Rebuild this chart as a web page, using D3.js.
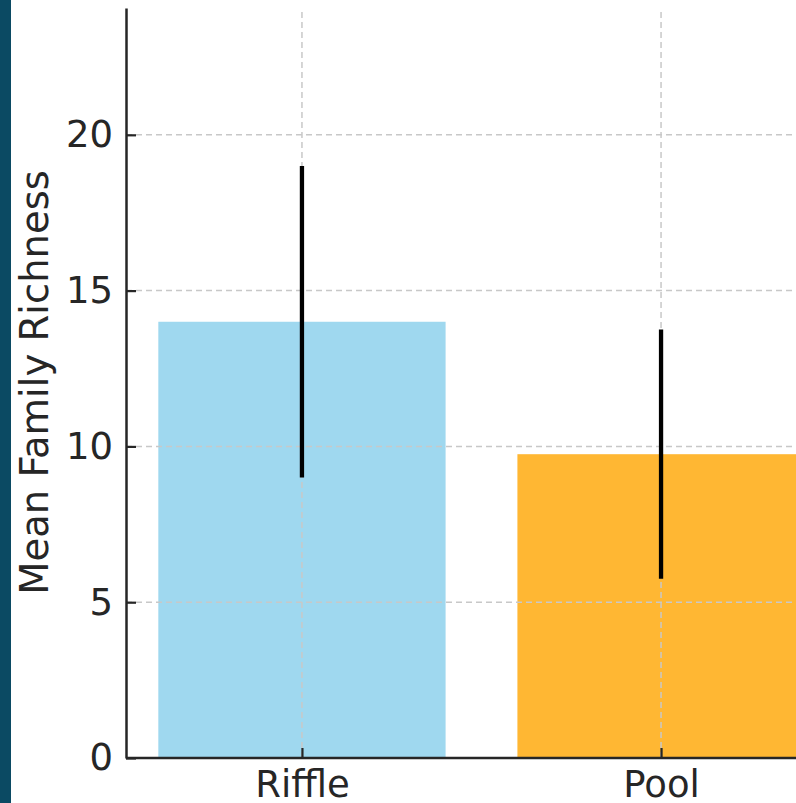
<!DOCTYPE html>
<html>
<head>
<meta charset="utf-8">
<script src="https://cdn.jsdelivr.net/npm/d3@7"></script>
<style>
  body { margin: 0; background: #ffffff; }
  svg { display: block; font-family: "DejaVu Sans", sans-serif; }
</style>
</head>
<body>
<div id="vis"></div>
<script>
// chart data
const CATEGORIES = ["Riffle", "Pool"];
const MEANS = [14.0, 9.75];
const ERRORS = [5.0, 4.0];
const COLORS = ["skyblue", "orange"];
const Y_TICKS = [0, 5, 10, 15, 20];

// frame
const FRAME_WIDTH = 796;
const FRAME_HEIGHT = 803;
const MARGINS = {left: 126, top: 8, bottom: 45};

const FRAME = d3.select("#vis")
                .append("svg")
                  .attr("width", FRAME_WIDTH)
                  .attr("height", FRAME_HEIGHT);

// dark strip on the left edge
FRAME.append("rect")
     .attr("x", 0).attr("y", 0)
     .attr("width", 11).attr("height", FRAME_HEIGHT)
     .attr("fill", "#0b4a63");

// scales (x runs past the right edge, the plot is cut off there)
const X_SCALE = d3.scaleLinear()
                  .domain([-0.49, 1.49])
                  .range([MARGINS.left, 837]);

const Y_SCALE = d3.scaleLinear()
                  .domain([0, 24.07])
                  .range([FRAME_HEIGHT - MARGINS.bottom, MARGINS.top]);

const BAR_W = X_SCALE(0.8) - X_SCALE(0);

// bars
FRAME.selectAll(".bar")
     .data(CATEGORIES)
     .enter()
     .append("rect")
       .attr("class", "bar")
       .attr("x", (d, i) => { return X_SCALE(i) - BAR_W / 2; })
       .attr("y", (d, i) => { return Y_SCALE(MEANS[i]); })
       .attr("width", BAR_W)
       .attr("height", (d, i) => { return Y_SCALE(0) - Y_SCALE(MEANS[i]); })
       .attr("fill", (d, i) => { return COLORS[i]; })
       .attr("fill-opacity", 0.8);

// grid, drawn over the bars
const GRID = FRAME.append("g")
                  .attr("stroke", "#c8c8c8")
                  .attr("stroke-width", 1.5)
                  .attr("stroke-dasharray", "6,4");

GRID.selectAll(".hgrid")
    .data(Y_TICKS.slice(1))
    .enter()
    .append("line")
      .attr("x1", MARGINS.left).attr("x2", FRAME_WIDTH)
      .attr("y1", (d) => { return Y_SCALE(d); })
      .attr("y2", (d) => { return Y_SCALE(d); });

GRID.selectAll(".vgrid")
    .data(CATEGORIES)
    .enter()
    .append("line")
      .attr("x1", (d, i) => { return X_SCALE(i); })
      .attr("x2", (d, i) => { return X_SCALE(i); })
      .attr("y1", Y_SCALE(0)).attr("y2", MARGINS.top);

// error bars
FRAME.selectAll(".err")
     .data(CATEGORIES)
     .enter()
     .append("line")
       .attr("x1", (d, i) => { return X_SCALE(i); })
       .attr("x2", (d, i) => { return X_SCALE(i); })
       .attr("y1", (d, i) => { return Y_SCALE(MEANS[i] - ERRORS[i]); })
       .attr("y2", (d, i) => { return Y_SCALE(MEANS[i] + ERRORS[i]); })
       .attr("stroke", "#000000")
       .attr("stroke-width", 4.3);

// y axis
const Y_AXIS = FRAME.append("g")
     .attr("transform", "translate(" + MARGINS.left + ",0)")
     .call(d3.axisLeft(Y_SCALE).tickValues(Y_TICKS).tickSizeInner(-10).tickSizeOuter(0).tickPadding(13));

// x axis
const X_AXIS = FRAME.append("g")
     .attr("transform", "translate(0," + Y_SCALE(0) + ")")
     .call(d3.axisBottom(X_SCALE).tickValues([0, 1])
             .tickFormat((d) => { return CATEGORIES[d]; })
             .tickSizeInner(-10).tickSizeOuter(0).tickPadding(13));

[Y_AXIS, X_AXIS].forEach((ax) => {
  ax.attr("font-size", "37px").attr("font-family", "DejaVu Sans, sans-serif");
  ax.selectAll(".domain").attr("stroke", "#262626").attr("stroke-width", 2.5);
  ax.selectAll(".tick line").attr("stroke", "#262626").attr("stroke-width", 2.2);
  ax.selectAll(".tick text").attr("fill", "#262626");
});

// x domain line runs to the right edge
X_AXIS.select(".domain").attr("d", "M" + MARGINS.left + ",0H" + FRAME_WIDTH);

// y axis title
FRAME.append("text")
     .attr("transform", "translate(48,382.5) rotate(-90)")
     .attr("text-anchor", "middle")
     .attr("font-size", "38.5px")
     .attr("fill", "#262626")
     .text("Mean Family Richness");
</script>
</body>
</html>
